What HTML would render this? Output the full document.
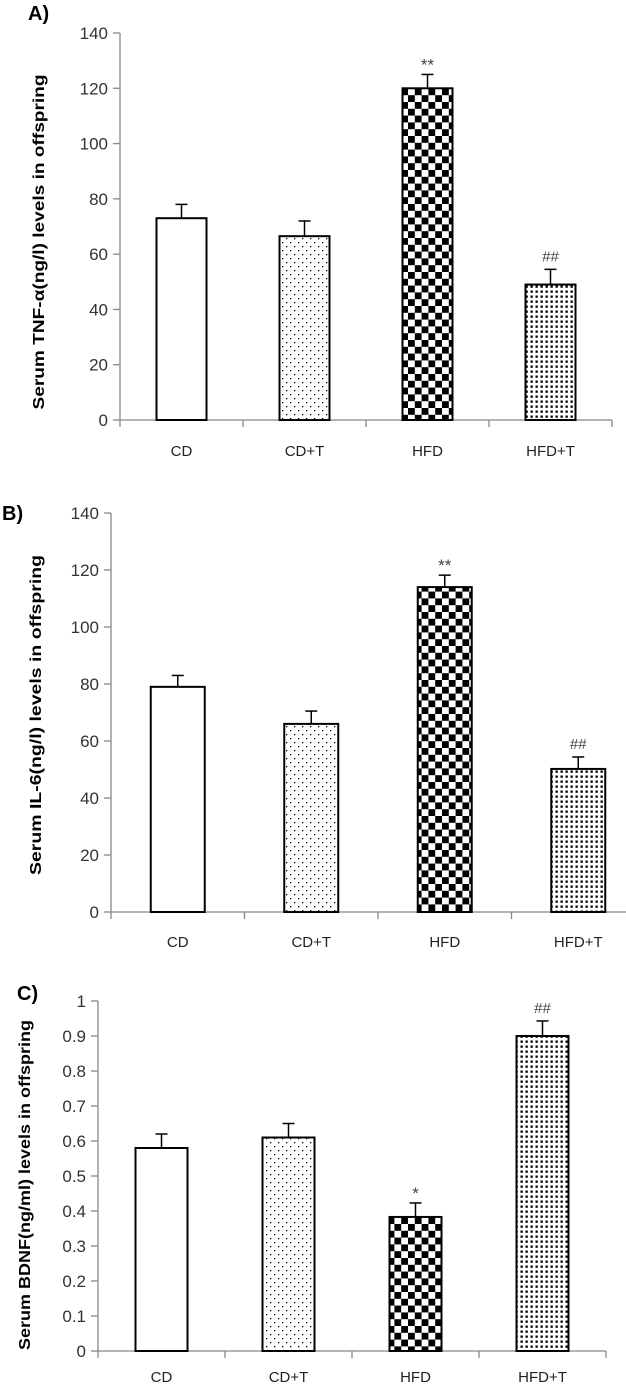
<!DOCTYPE html>
<html><head><meta charset="utf-8"><style>
html,body{margin:0;padding:0;background:#fff;}
svg{display:block;}
text{font-family:"Liberation Sans",sans-serif;}
</style></head><body>
<svg id="chart" width="626" height="1385" viewBox="0 0 626 1385" xmlns="http://www.w3.org/2000/svg">
<defs>
<pattern id="dots" width="8" height="8" patternUnits="userSpaceOnUse"><rect width="8" height="8" fill="#fff"/><rect x="2" y="2" width="1.3" height="1.3" fill="#000"/><rect x="6" y="6" width="1.3" height="1.3" fill="#000"/></pattern>
<pattern id="checker" width="13.6" height="13.6" patternUnits="userSpaceOnUse"><rect width="13.6" height="13.6" fill="#fff"/><rect x="0" y="0" width="6.8" height="6.8" fill="#000"/><rect x="6.8" y="6.8" width="6.8" height="6.8" fill="#000"/></pattern>
<pattern id="dense" width="5" height="5" patternUnits="userSpaceOnUse"><rect width="5" height="5" fill="#fff"/><rect x="0.5" y="0.5" width="2.3" height="2.3" fill="#000"/></pattern>
</defs>
</svg>
<script>
const categories = ["CD","CD+T","HFD","HFD+T"];
const fills = ["#fff","url(#dots)","url(#checker)","url(#dense)"];
const tnfValues = [73, 66.5, 120, 49];
const tnfErrors = [5, 5.5, 5, 5.5];
const tnfMarks = ["","","**","##"];
const tnfTicks = [0,20,40,60,80,100,120,140];
const il6Values = [79, 66, 114, 50.2];
const il6Errors = [4, 4.5, 4.2, 4.2];
const il6Marks = ["","","**","##"];
const il6Ticks = [0,20,40,60,80,100,120,140];
const bdnfValues = [0.58, 0.61, 0.383, 0.9];
const bdnfErrors = [0.04, 0.04, 0.04, 0.043];
const bdnfMarks = ["","","*","##"];
const bdnfTicks = [0,0.1,0.2,0.3,0.4,0.5,0.6,0.7,0.8,0.9,1];

const svg = document.getElementById('chart');
const NS = "http://www.w3.org/2000/svg";
function mk(tag, attrs, parent){const e=document.createElementNS(NS,tag);for(const k in attrs)e.setAttribute(k,attrs[k]);(parent||svg).appendChild(e);return e;}

function drawPanel(p, values, errors, marks, ticks){
  const g = mk('g',{});
  
  
  const yMax = ticks[ticks.length-1];
  const y = v => p.y0 - (v / yMax) * (p.y0 - p.yTop);
  const xc = i => p.x0 + p.step*(i+0.5);
  const lt = mk('text',{x:p.letterX,y:p.letterY,'font-size':20,'font-weight':'bold',fill:'#000'},g);
  lt.textContent = p.letter;
  
  
  const ya = mk('line',{x1:p.x0,y1:p.yTop,x2:p.x0,y2:p.y0,stroke:'#888','stroke-width':1.3},g);
  
  
  ticks.forEach(t=>{
    mk('line',{x1:p.x0-7,y1:y(t),x2:p.x0,y2:y(t),stroke:'#888','stroke-width':1.3},g);
    const tl = mk('text',{x:p.x0-12,y:y(t)+6,'font-size':17,'text-anchor':'end',fill:'#333'},g);
    tl.textContent = String(t);
    
    
  });
  const xa = mk('line',{x1:p.x0,y1:p.y0,x2:Math.min(p.x0+p.step*4,626),y2:p.y0,stroke:'#888','stroke-width':1.3},g);
  
  
  for(let i=0;i<=4;i++){mk('line',{x1:p.x0+p.step*i,y1:p.y0,x2:p.x0+p.step*i,y2:p.y0+7,stroke:'#888','stroke-width':1.3},g);}
  const yt = mk('text',{x:0,y:0,'font-size':16,'font-weight':'bold','text-anchor':'middle',fill:'#000',textLength:p.titleLen,lengthAdjust:'spacingAndGlyphs',transform:`translate(${p.titleX},${p.titleY}) rotate(-90)`},g);
  yt.textContent = p.title;
  
  
  categories.forEach((c,i)=>{
    const cx = xc(i), top = y(values[i]), et = y(values[i]+errors[i]);
    const eb = mk('line',{x1:cx,y1:et,x2:cx,y2:top,stroke:'#000','stroke-width':1.5},g);
    
    
    mk('line',{x1:cx-6,y1:et,x2:cx+6,y2:et,stroke:'#000','stroke-width':1.5},g);
    const b = mk('rect',{x:cx-p.bw/2,y:top,width:p.bw,height:p.y0-top,fill:fills[i],stroke:'#000','stroke-width':2},g);
    
    
    const xl = mk('text',{x:cx,y:p.y0+p.labOff,'font-size':15,'text-anchor':'middle',fill:'#222'},g);
    xl.textContent = c;
    
    
    if(marks[i]){
      const m = mk('text',{x:cx,y:et-(marks[i]==='##'?8:4),'font-size':marks[i]==='##'?15:17,'text-anchor':'middle',fill:'#444'},g);
      m.textContent = marks[i];
      
      
    }
  });
}

drawPanel({name:'panel-a-tnf',letter:'A)',letterX:28,letterY:20,x0:120,step:123,y0:420,yTop:33,bw:50,titleX:44,titleY:242,titleLen:335,labOff:36,title:'Serum TNF-α(ng/l) levels in offspring'},tnfValues,tnfErrors,tnfMarks,tnfTicks);
drawPanel({name:'panel-b-il6',letter:'B)',letterX:2,letterY:520,x0:111,step:133.5,y0:912,yTop:513,bw:54,titleX:41,titleY:715,titleLen:320,labOff:35,title:'Serum IL-6(ng/l) levels in offspring'},il6Values,il6Errors,il6Marks,il6Ticks);
drawPanel({name:'panel-c-bdnf',letter:'C)',letterX:17,letterY:1000,x0:98,step:127,y0:1351,yTop:1001,bw:52,titleX:30,titleY:1185,titleLen:330,labOff:31,title:'Serum BDNF(ng/ml) levels in offspring'},bdnfValues,bdnfErrors,bdnfMarks,bdnfTicks);
</script>
</body></html>
